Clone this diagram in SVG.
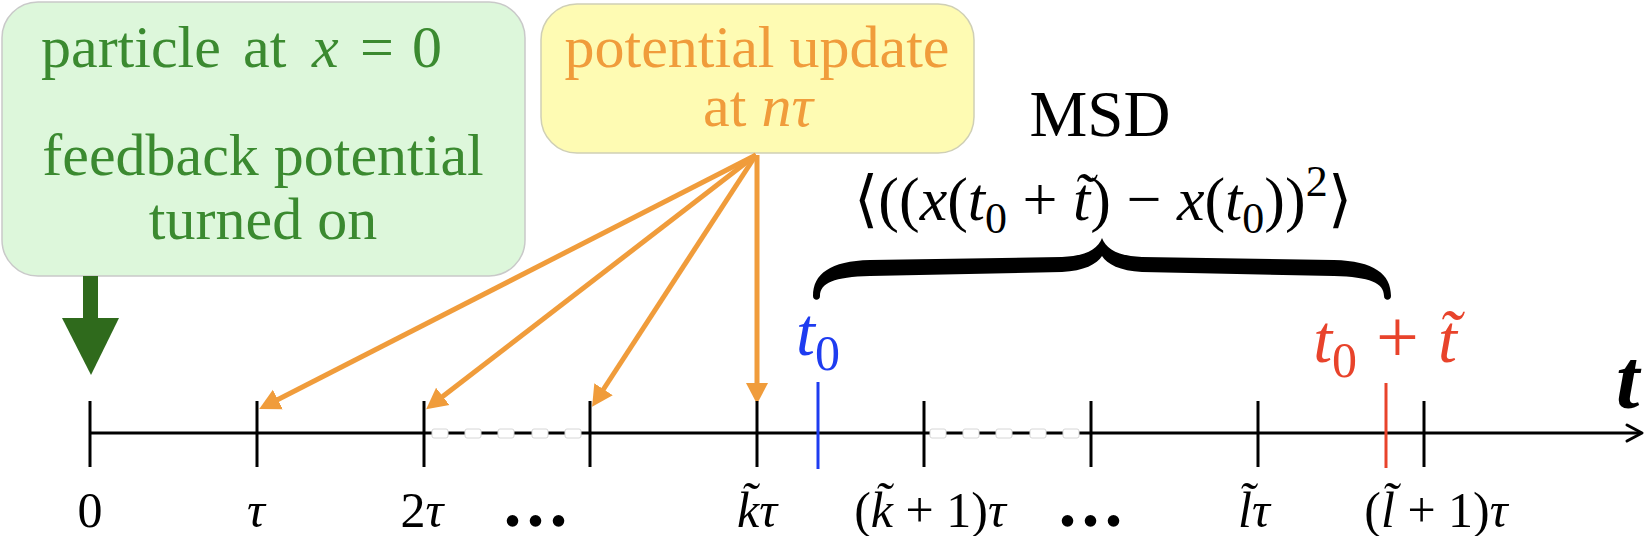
<svg xmlns="http://www.w3.org/2000/svg" width="1645" height="536" viewBox="0 0 1645 536">
<style>
text{font-family:"Liberation Serif","Times New Roman",serif;}
.g{fill:#3b8a30;font-size:60px;}
.o{fill:#f09c3b;font-size:60px;}
.lab{font-size:50px;text-anchor:middle;}
.i{font-style:italic;}
.tick{stroke:#000;stroke-width:3;}
.arr{stroke:#f09c3b;stroke-width:5;fill:none;}
.dash{fill:#fff;stroke:#d6d6d6;stroke-width:1;}
.dots{font-size:56px;font-weight:bold;text-anchor:middle;letter-spacing:9px;stroke:#000;stroke-width:2.5px;}
</style>
<defs>
<marker id="oh" markerUnits="userSpaceOnUse" markerWidth="22" markerHeight="24" viewBox="0 -12 22 24" refX="1" refY="0" orient="auto">
<path d="M0,-11 L21,0 L0,11 z" fill="#f09c3b"/>
</marker>
</defs>

<g id="box-particle">
<rect x="2" y="2" width="523" height="274" rx="36" fill="#ddf7db" stroke="#c9c9c9" stroke-width="1.5"/>
<text class="g" x="41" y="67">particle<tspan x="243">at</tspan><tspan x="312" class="i">x</tspan><tspan x="360">=</tspan><tspan x="412">0</tspan></text>
<text class="g" x="263" y="175" text-anchor="middle">feedback potential</text>
<text class="g" x="263" y="239" text-anchor="middle">turned on</text>
</g>

<g id="box-update">
<rect x="541" y="4" width="433" height="149" rx="36" fill="#fefbb3" stroke="#cfcfb5" stroke-width="1.5"/>
<text class="o" x="757" y="67" text-anchor="middle">potential update</text>
<text class="o" x="758" y="126" text-anchor="middle">at <tspan class="i">nτ</tspan></text>
</g>

<g id="green-arrow" fill="#2f6a1c">
<rect x="83" y="276" width="15" height="43"/>
<polygon points="62,318 119,318 91,375"/>
</g>

<g id="connectors">
<line class="arr" x1="756" y1="155" x2="277" y2="400" marker-end="url(#oh)"/>
<line class="arr" x1="756" y1="155" x2="442" y2="397" marker-end="url(#oh)"/>
<line class="arr" x1="756" y1="155" x2="603" y2="390" marker-end="url(#oh)"/>
<line class="arr" x1="757" y1="155" x2="757" y2="384" marker-end="url(#oh)"/>
</g>

<g id="axis">
<line x1="90" y1="433" x2="1641" y2="433" stroke="#000" stroke-width="3"/>
<polyline points="1627,425 1642,433 1627,441" fill="none" stroke="#000" stroke-width="3" stroke-linecap="round" stroke-linejoin="round"/>
<line class="tick" x1="90" y1="401" x2="90" y2="467"/>
<line class="tick" x1="257" y1="401" x2="257" y2="467"/>
<line class="tick" x1="424" y1="401" x2="424" y2="467"/>
<line class="tick" x1="590" y1="401" x2="590" y2="467"/>
<line class="tick" x1="757" y1="401" x2="757" y2="467"/>
<line class="tick" x1="924" y1="401" x2="924" y2="467"/>
<line class="tick" x1="1091" y1="401" x2="1091" y2="467"/>
<line class="tick" x1="1258" y1="401" x2="1258" y2="467"/>
<line class="tick" x1="1424" y1="401" x2="1424" y2="467"/>
<rect class="dash" x="432" y="429" width="16" height="9" rx="2"/>
<rect class="dash" x="465" y="429" width="16" height="9" rx="2"/>
<rect class="dash" x="498" y="429" width="16" height="9" rx="2"/>
<rect class="dash" x="532" y="429" width="16" height="9" rx="2"/>
<rect class="dash" x="565" y="429" width="16" height="9" rx="2"/>
<rect class="dash" x="930" y="429" width="16" height="9" rx="2"/>
<rect class="dash" x="963" y="429" width="16" height="9" rx="2"/>
<rect class="dash" x="996" y="429" width="16" height="9" rx="2"/>
<rect class="dash" x="1030" y="429" width="16" height="9" rx="2"/>
<rect class="dash" x="1063" y="429" width="16" height="9" rx="2"/>
<line x1="818" y1="382" x2="818" y2="469" stroke="#1e3cf0" stroke-width="3"/>
<line x1="1386" y1="383" x2="1386" y2="468" stroke="#e8432b" stroke-width="3"/>
<text x="1616" y="408" font-size="84" font-weight="bold" font-style="italic">t</text>
</g>

<g id="labels">
<text class="lab" x="90" y="527">0</text>
<text class="lab i" x="256" y="527">τ</text>
<text class="lab" x="422" y="527">2<tspan class="i">τ</tspan></text>
<text class="dots" x="540" y="525">...</text>
<text class="lab i" x="757" y="527">k̃τ</text>
<text class="lab" x="930" y="527">(<tspan class="i">k̃</tspan> + 1)<tspan class="i">τ</tspan></text>
<text class="dots" x="1095" y="525">...</text>
<text class="lab i" x="1254" y="527">l̃τ</text>
<text class="lab" x="1436" y="527">(<tspan class="i">l̃</tspan> + 1)<tspan class="i">τ</tspan></text>
</g>

<g id="t0-label">
<text x="818" y="355" font-size="68" fill="#1e3cf0" text-anchor="middle"><tspan font-style="italic">t</tspan><tspan font-size="50" dy="15">0</tspan></text>
</g>

<g id="t0t-label">
<text x="1385" y="362" font-size="68" fill="#e8432b" text-anchor="middle"><tspan font-style="italic">t</tspan><tspan font-size="50" dy="15">0</tspan><tspan dy="-15" font-size="76"> + </tspan><tspan font-style="italic">t̃</tspan></text>
</g>

<g id="msd">
<text x="1100" y="136" font-size="65" text-anchor="middle">MSD</text>
<text x="1103" y="220" font-size="62" text-anchor="middle">⟨((<tspan font-style="italic">x</tspan>(<tspan font-style="italic">t</tspan><tspan font-size="44" dy="13">0</tspan><tspan dy="-13"> + </tspan><tspan font-style="italic">t̃</tspan>) − <tspan font-style="italic">x</tspan>(<tspan font-style="italic">t</tspan><tspan font-size="44" dy="13">0</tspan><tspan dy="-13">))</tspan><tspan font-size="44" dy="-24">2</tspan><tspan dy="24">⟩</tspan></text>
<path d="M813,296 C813,274 830,261 870,260 L1062,257 C1086,256 1098,249 1102,238 C1106,249 1118,256 1142,257 L1334,260 C1374,261 1391,274 1391,296 C1391,301 1384,301 1384,296 C1384,283 1370,277 1334,276 L1142,272 C1120,271 1107,264 1102,256 C1097,264 1084,271 1062,272 L870,276 C834,277 820,283 820,296 C820,301 813,301 813,296 Z" fill="#000"/>
</g>
</svg>
